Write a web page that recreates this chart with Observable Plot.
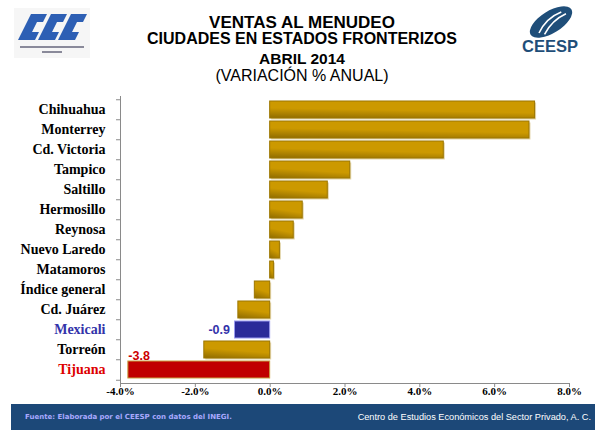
<!DOCTYPE html>
<html><head><meta charset="utf-8">
<script src="https://cdn.jsdelivr.net/npm/d3@7"></script>
<script src="https://cdn.jsdelivr.net/npm/@observablehq/plot@0.6"></script>
<style>
html,body{margin:0;padding:0;background:#fff}
#page{position:relative;width:595px;height:430px;overflow:hidden;font-family:Arial,"Liberation Sans",sans-serif}
.t{position:absolute;left:0;width:604px;text-align:center;color:#000;white-space:nowrap;line-height:1}
#chart{position:absolute;left:0;top:88px}
#footer{position:absolute;left:11px;top:404px;width:584px;height:26px;background:#1c4878}
#src{position:absolute;left:14px;top:9px;font:bold 7px "DejaVu Sans",Verdana,sans-serif;color:#a9a9ff;white-space:nowrap}
#org{position:absolute;right:4px;top:8px;font:9.2px Arial,"Liberation Sans",sans-serif;color:#fff;white-space:nowrap}
#logoL{position:absolute;left:14px;top:8px}
#logoR{position:absolute;left:516px;top:6px}
</style></head><body>
<div id="page">
  <svg id="logoL" width="76" height="50" viewBox="0 0 76 50">
    <rect x="0" y="0" width="76" height="50" fill="#f6f6f6"/>
    <g fill="#2d5fb4">
      <path d="M4 32 L17 6 L33 6 L29 14 L23 14 L18 24 L25 24 L21 32 Z"/>
      <path d="M24 32 L37 6 L53 6 L49 14 L43 14 L38 24 L45 24 L41 32 Z"/>
      <path d="M44 32 L57 6 L73 6 L69 14 L63 14 L58 24 L65 24 L61 32 Z"/>
    </g>
    <rect x="6" y="38" width="64" height="2" fill="#8a8a9a"/>
    <rect x="28" y="43" width="20" height="2" fill="#8a8a9a"/>
  </svg>
  <svg id="logoR" width="76" height="52" viewBox="0 0 76 52">
    <g transform="translate(35,16) rotate(-32)">
      <ellipse cx="0" cy="0" rx="24" ry="11" fill="#1f4e79"/>
      <path d="M-16 3 Q-2 -6 14 -3" stroke="#fff" stroke-width="1.6" fill="none"/>
      <path d="M-12 7 Q2 -1 17 1" stroke="#fff" stroke-width="1.6" fill="none"/>
    </g>
    <text x="6" y="46" font-family="Arial,Liberation Sans,sans-serif" font-weight="bold" font-size="17" fill="#1f4e79" textLength="56" lengthAdjust="spacingAndGlyphs">CEESP</text>
  </svg>
  <div class="t" style="top:13.6px;font-size:17px;font-weight:bold">VENTAS AL MENUDEO</div>
  <div class="t" style="top:30.8px;font-size:16px;font-weight:bold">CIUDADES EN ESTADOS FRONTERIZOS</div>
  <div class="t" style="top:51.2px;font-size:15.5px;font-weight:bold">ABRIL 2014</div>
  <div class="t" style="top:68.2px;font-size:16px">(VARIACIÓN % ANUAL)</div>
  <div id="chart"></div>
  <div id="footer">
    <div id="src">Fuente: Elaborada por el CEESP con datos del INEGI.</div>
    <div id="org">Centro de Estudios Económicos del Sector Privado, A. C.</div>
  </div>
</div>
<script>
// ---- data ----
const cities = ["Chihuahua","Monterrey","Cd. Victoria","Tampico","Saltillo","Hermosillo","Reynosa","Nuevo Laredo","Matamoros","Índice general","Cd. Juárez","Mexicali","Torreón","Tijuana"];
const values = [7.08, 6.93, 4.64, 2.14, 1.54, 0.87, 0.63, 0.26, 0.1, -0.41, -0.85, -0.94, -1.76, -3.79];
const xTicks = [-4, -2, 0, 2, 4, 6, 8];
const xDomain = [-4, 8];
const blueCity = "Mexicali";
const redCity = "Tijuana";

// ---- chart ----
const data = cities.map((c, i) => ({city: c, value: values[i]}));
const W = 595, H = 316, mT = 8, mB = 21, mL = 120, mR = 26;
const pIn = 0.15, pOut = 0.075;
const step = (H - mT - mB) / (cities.length - pIn + 2 * pOut);
const bw = step * (1 - pIn);

const GOLD = "url(#gGold)", BLUE = "#2b2b99", RED = "#c00000";
const isGold = d => d.city !== blueCity && d.city !== redCity;
const serif = "'Times New Roman','Liberation Serif',serif";

const chart = Plot.plot({
  width: W, height: H,
  marginTop: mT, marginBottom: mB, marginLeft: mL, marginRight: mR,
  x: {domain: xDomain, axis: null, label: null},
  y: {domain: cities, paddingInner: pIn, paddingOuter: pOut, axis: null, label: null},
  marks: [
    Plot.barX(data.filter(isGold), {x: "value", y: "city", fill: "#e3d5aa", dx: 1.5, dy: 1.5}),
    Plot.barX(data.filter(isGold), {x: "value", y: "city", fill: GOLD, stroke: "#9c7600", strokeWidth: 1}),
    Plot.barX(data.filter(d => d.city === blueCity), {x: "value", y: "city", fill: BLUE, stroke: "#9a9aee", strokeWidth: 1}),
    Plot.barX(data.filter(d => d.city === redCity), {x: "value", y: "city", fill: RED, stroke: "#c8a040", strokeWidth: 1}),
    Plot.ruleX([xDomain[0]], {stroke: "#8a8a8a"}),
    Plot.frame({anchor: "bottom", stroke: "#8a8a8a"}),
    Plot.axisY(cities, {tickSize: 4, tickFormat: () => "", label: null, dy: -step / 2, stroke: "#8a8a8a"}),
    Plot.axisY([cities[cities.length - 1]], {tickSize: 4, tickFormat: () => "", label: null, dy: step / 2, stroke: "#8a8a8a"}),
    Plot.axisX({ticks: xTicks, tickSize: 4, tickPadding: 0, label: null, stroke: "#8a8a8a", fill: "#000",
      tickFormat: d => d.toFixed(1) + "%", fontFamily: serif, fontWeight: "bold", fontSize: 11}),
    Plot.text(data, {y: "city", text: "city", frameAnchor: "left", textAnchor: "end", dx: -15,
      fill: d => d.city === blueCity ? "#3333aa" : d.city === redCity ? "#dd0000" : "#000",
      fontFamily: serif, fontWeight: "bold", fontSize: 14}),
    Plot.text(data.filter(d => d.city === blueCity), {x: "value", y: "city", text: d => d.value.toFixed(1),
      textAnchor: "end", dx: -5, fill: "#3333aa", fontWeight: "bold", fontSize: 12.5, fontFamily: "Arial,'Liberation Sans',sans-serif"}),
    Plot.text(data.filter(d => d.city === redCity), {x: "value", y: "city", text: d => d.value.toFixed(1),
      textAnchor: "start", lineAnchor: "bottom", dy: -bw / 2 - 1, dx: 0, fill: "#cc0000", fontWeight: "bold", fontSize: 12.5, fontFamily: "Arial,'Liberation Sans',sans-serif"})
  ]
});

const defs = d3.select(chart).insert("defs", ":first-child");
const g = defs.append("linearGradient").attr("id", "gGold")
  .attr("x1", 0).attr("y1", 1).attr("x2", 0.3).attr("y2", 0);
g.append("stop").attr("offset", 0).attr("stop-color", "#8f6c00");
g.append("stop").attr("offset", 0.55).attr("stop-color", "#cc9900");
g.append("stop").attr("offset", 1).attr("stop-color", "#cc9900");

document.getElementById("chart").appendChild(chart);
</script>
</body></html>
